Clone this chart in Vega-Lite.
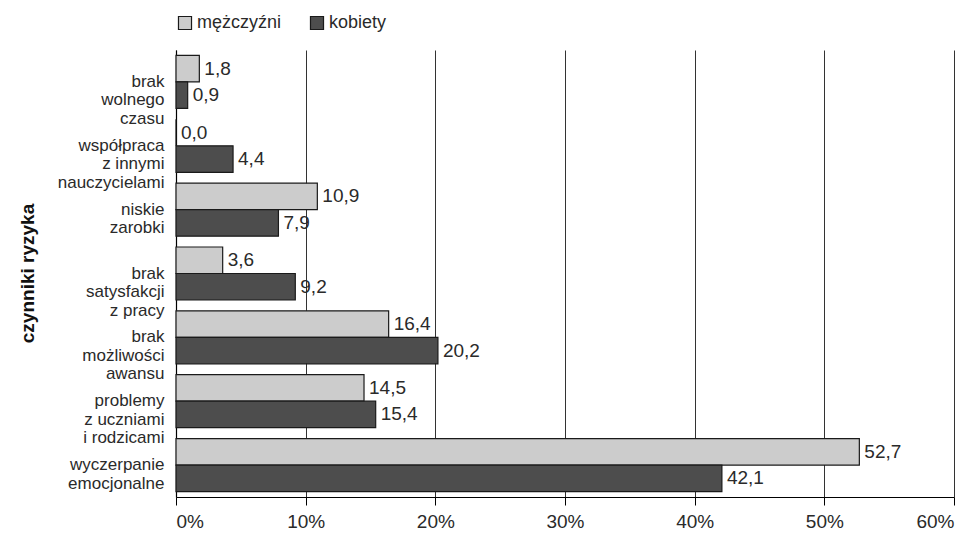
{
  "$schema": "https://vega.github.io/schema/vega-lite/v6.json",
  "autosize": {"type": "none"},
  "width": 778,
  "height": 447,
  "padding": {"left": 176, "top": 50, "right": 24, "bottom": 40},
  "background": "white",
  "config": {
    "locale": {"number": {"decimal": ",", "thousands": " ", "grouping": [3], "currency": ["", " zł"]}},
    "font": "Liberation Sans",
    "view": {"stroke": null},
    "axis": {"labelFont": "Liberation Sans", "titleFont": "Liberation Sans"},
    "legend": {"labelFont": "Liberation Sans"}
  },
  "data": {
    "values": [
      {"czynnik": "brak|wolnego|czasu", "plec": "mężczyźni", "procent": 1.8},
      {"czynnik": "brak|wolnego|czasu", "plec": "kobiety", "procent": 0.9},
      {"czynnik": "współpraca|z innymi|nauczycielami", "plec": "mężczyźni", "procent": 0.0},
      {"czynnik": "współpraca|z innymi|nauczycielami", "plec": "kobiety", "procent": 4.4},
      {"czynnik": "niskie|zarobki", "plec": "mężczyźni", "procent": 10.9},
      {"czynnik": "niskie|zarobki", "plec": "kobiety", "procent": 7.9},
      {"czynnik": "brak|satysfakcji|z pracy", "plec": "mężczyźni", "procent": 3.6},
      {"czynnik": "brak|satysfakcji|z pracy", "plec": "kobiety", "procent": 9.2},
      {"czynnik": "brak|możliwości|awansu", "plec": "mężczyźni", "procent": 16.4},
      {"czynnik": "brak|możliwości|awansu", "plec": "kobiety", "procent": 20.2},
      {"czynnik": "problemy|z uczniami|i rodzicami", "plec": "mężczyźni", "procent": 14.5},
      {"czynnik": "problemy|z uczniami|i rodzicami", "plec": "kobiety", "procent": 15.4},
      {"czynnik": "wyczerpanie|emocjonalne", "plec": "mężczyźni", "procent": 52.7},
      {"czynnik": "wyczerpanie|emocjonalne", "plec": "kobiety", "procent": 42.1}
    ]
  },
  "encoding": {
    "y": {
      "field": "czynnik",
      "type": "nominal",
      "sort": null,
      "scale": {"paddingInner": 0.17, "paddingOuter": 0.085},
      "axis": {
        "title": "czynniki ryzyka",
        "titleFontSize": 19,
        "titleFontWeight": "bold",
        "titleColor": "#111",
        "titleAngle": -90,
        "titleX": -149,
        "titleY": 223,
        "titleBaseline": "middle",
        "titleAlign": "center",
        "labelExpr": "split(datum.label, '|')",
        "labelFontSize": 17,
        "labelLineHeight": 18.5,
        "labelColor": "#2a2a2a",
        "labelPadding": 12,
        "ticks": false,
        "domainColor": "#000",
        "domainWidth": 1.2
      }
    },
    "yOffset": {
      "field": "plec",
      "type": "nominal",
      "sort": ["mężczyźni", "kobiety"],
      "scale": {"paddingInner": 0, "paddingOuter": 0}
    },
    "x": {
      "field": "procent",
      "type": "quantitative",
      "scale": {"domain": [0, 60], "nice": false},
      "axis": {
        "title": null,
        "values": [0, 10, 20, 30, 40, 50, 60],
        "labelExpr": "datum.value + '%'",
        "labelFontSize": 19,
        "labelColor": "#2a2a2a",
        "labelPadding": 7,
        "tickSize": 8,
        "tickColor": "#000",
        "domainColor": "#000",
        "domainWidth": 1.2,
        "grid": true,
        "gridColor": "#333",
        "gridWidth": 1
      }
    }
  },
  "layer": [
    {
      "mark": {"type": "bar", "stroke": "#1a1a1a", "strokeWidth": 1.2},
      "encoding": {
        "color": {
          "field": "plec",
          "type": "nominal",
          "sort": ["mężczyźni", "kobiety"],
          "scale": {"domain": ["mężczyźni", "kobiety"], "range": ["#cccccc", "#4d4d4d"]},
          "legend": {
            "title": null,
            "orient": "none",
            "legendX": 0,
            "legendY": -36,
            "direction": "horizontal",
            "symbolType": "square",
            "symbolSize": 170,
            "symbolStrokeColor": "#1a1a1a",
            "symbolStrokeWidth": 1.2,
            "labelFontSize": 18,
            "labelColor": "#2a2a2a",
            "labelOffset": 3,
            "columnPadding": 26
          }
        }
      }
    },
    {
      "mark": {"type": "text", "align": "left", "baseline": "middle", "dx": 5, "fontSize": 19, "color": "#2a2a2a"},
      "encoding": {
        "text": {"field": "procent", "type": "quantitative", "format": ".1f"}
      }
    }
  ]
}
